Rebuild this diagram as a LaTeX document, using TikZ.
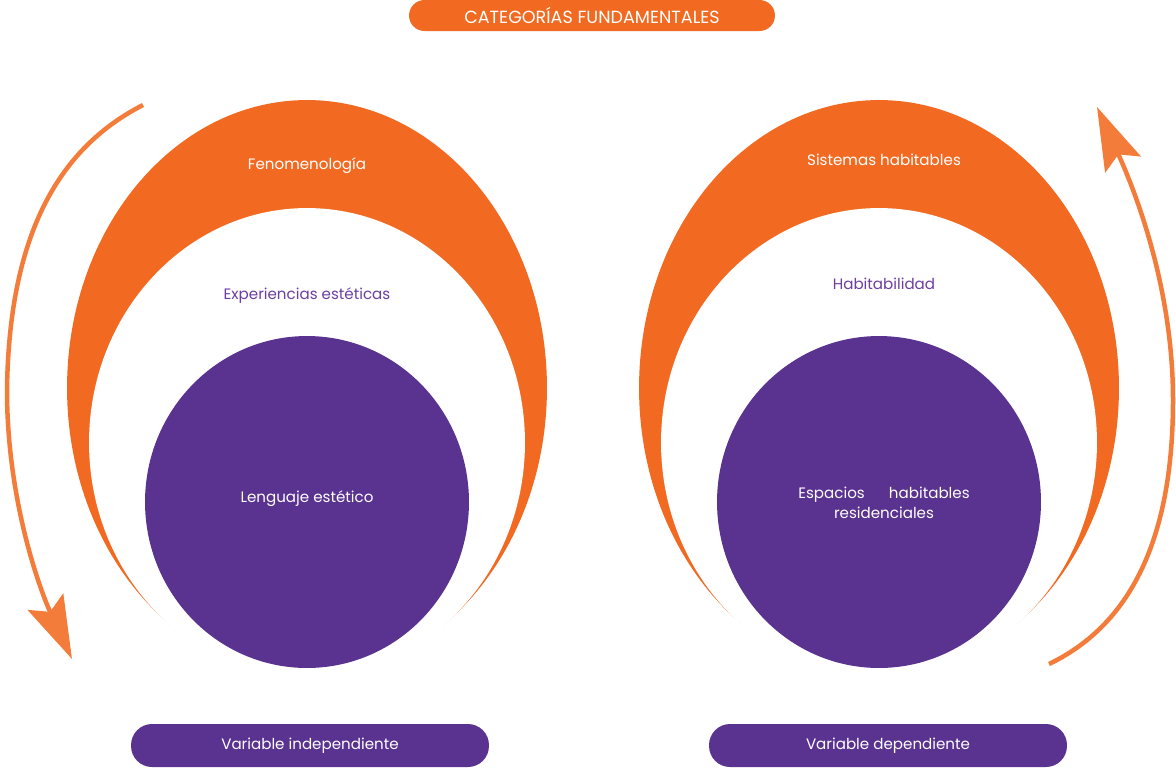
\documentclass[tikz,border=0pt]{standalone}
\usepackage{fontspec}
\setmainfont{Poppins}
\usetikzlibrary{arrows.meta}
\definecolor{naranja}{RGB}{242,106,34}
\definecolor{naranjaflecha}{RGB}{244,124,58}
\definecolor{morado}{RGB}{90,50,144}
\definecolor{moradotexto}{RGB}{108,62,162}

\begin{document}
\begin{tikzpicture}[x=0.02cm,y=-0.02cm,
    etiqueta/.style={font=\fontsize{8.6}{11.3}\selectfont, align=center, text=white},
    pastilla/.style={fill=morado, rounded corners=0.42cm, text=white, minimum width=7.16cm, minimum height=0.86cm, font=\fontsize{8.6}{10}\selectfont},
    flecha/.style={line width=0.09cm, draw=naranjaflecha, -{Stealth[length=1.26cm,width=0.78cm,inset=0.22cm]}}]
        \useasboundingbox (0,0) rectangle (1176,768);

        % izquierda
        \fill[naranja] (307,388) ellipse [x radius=4.8cm, y radius=5.76cm];
        \fill[white] (307,442.6) ellipse [x radius=4.36cm, y radius=4.692cm];
        \fill[morado] (307,502) ellipse [x radius=3.24cm, y radius=3.32cm];
        % derecha
        \fill[naranja] (879,388) ellipse [x radius=4.8cm, y radius=5.76cm];
        \fill[white] (879,442.6) ellipse [x radius=4.36cm, y radius=4.692cm];
        \fill[morado] (879,502) ellipse [x radius=3.24cm, y radius=3.32cm];

        \node[etiqueta] (fen) at (307,166) {Fenomenología};
        \node[etiqueta, text=moradotexto] (exp) at (307,296) {Experiencias estéticas};
        \node[etiqueta] (len) at (307,499) {Lenguaje estético};
        \node[etiqueta] (sis) at (884,160) {Sistemas habitables};
        \node[etiqueta, text=moradotexto] (hab) at (884,284) {Habitabilidad};
        \node[etiqueta] (esp) at (884,503) {Espacios\hspace{1.6em}habitables\\residenciales};

        \node[fill=naranja, rounded corners=0.31cm, text=white, minimum width=7.32cm, minimum height=0.62cm, font=\fontsize{10}{10}\selectfont] (titulo) at (592,15.5) {CATEGORÍAS FUNDAMENTALES};
        \node[pastilla] (indep) at (310,745.5) {Variable independiente};
        \node[pastilla] (dep) at (888,745.5) {Variable dependiente};

        % flechas
        \coordinate (izqA) at (143,105);
        \coordinate (izqB) at (7,390);
        \coordinate (izqC) at (72,659);
        \coordinate (derA) at (1049,664);
        \coordinate (derB) at (1173,400);
        \coordinate (derC) at (1097,107);
        \draw[flecha] (izqA) .. controls (55,150) and (9,240) .. (izqB) .. controls (7,500) and (40,590) .. (izqC);
        \draw[flecha] (derA) .. controls (1130,625) and (1173,540) .. (derB) .. controls (1173,280) and (1130,180) .. (derC);

    \end{tikzpicture}
\end{document}
